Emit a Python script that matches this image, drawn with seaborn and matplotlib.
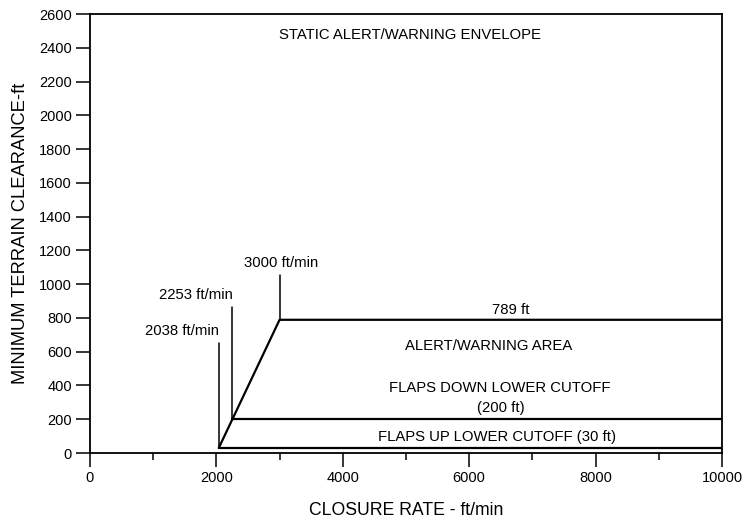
import pandas as pd
import seaborn as sns
import matplotlib.pyplot as plt

# envelope data (ft/min vs ft)
envelope_rate = [2038, 3000, 10000]
envelope_clearance = [30, 789, 789]
flaps_down_rate = [2253, 10000]
flaps_down_clearance = [200, 200]
flaps_up_rate = [2038, 10000]
flaps_up_clearance = [30, 30]

marker_rate = [2038, 2253, 3000]
marker_bottom = [30, 200, 789]
marker_top = [650, 865, 1054]
marker_labels = ["2038 ft/min", "2253 ft/min", "3000 ft/min"]

sns.set_style("ticks")
plt.rcParams['font.family'] = ['Liberation Sans', 'DejaVu Sans']
plt.rcParams['text.color'] = 'black'
plt.rcParams['axes.labelcolor'] = 'black'
plt.rcParams['xtick.color'] = 'black'
plt.rcParams['ytick.color'] = 'black'

fig = plt.figure(figsize=(7.46, 5.21), dpi=100)
ax = fig.add_axes([0.1206, 0.1305, 0.8472, 0.8426])

env = pd.DataFrame({'rate': envelope_rate, 'clearance': envelope_clearance})
sns.lineplot(data=env, x='rate', y='clearance', sort=False, color='black', lw=1.6, ax=ax)
sns.lineplot(x=flaps_down_rate, y=flaps_down_clearance, color='black', lw=1.6, ax=ax)
sns.lineplot(x=flaps_up_rate, y=flaps_up_clearance, color='black', lw=1.6, ax=ax)

fs = 10.7
# vertical marker lines with labels
for r, b, t, lab in zip(marker_rate, marker_bottom, marker_top, marker_labels):
    ax.plot([r, r], [b, t], color='black', lw=1.1)
    ax.text(r + 30 if r == 3000 else r + 10, t + 30, lab,
            ha='center' if r == 3000 else 'right', va='bottom', fontsize=fs)

ax.text(5060, 2475, "STATIC ALERT/WARNING ENVELOPE", ha='center', va='center', fontsize=fs)
ax.text(6650, 847, "789 ft", ha='center', va='center', fontsize=fs)
ax.text(6300, 634, "ALERT/WARNING AREA", ha='center', va='center', fontsize=fs)
ax.text(6490, 385, "FLAPS DOWN LOWER CUTOFF", ha='center', va='center', fontsize=fs)
ax.text(6500, 266, "(200 ft)", ha='center', va='center', fontsize=fs)
ax.text(6440, 95, "FLAPS UP LOWER CUTOFF (30 ft)", ha='center', va='center', fontsize=fs)

ax.set_xlim(0, 10000)
ax.set_ylim(0, 2600)
ax.set_xticks(range(0, 10001, 2000))
ax.set_xticks(range(1000, 10000, 2000), minor=True)
ax.set_yticks(range(0, 2601, 200))
ax.tick_params(axis='both', which='major', direction='out', length=10, width=1.1, labelsize=10.5)
ax.tick_params(axis='x', which='minor', direction='out', length=5, width=1.1)
ax.tick_params(axis='x', which='major', pad=3)
ax.tick_params(axis='y', which='major', pad=3)
for s in ax.spines.values():
    s.set_linewidth(1.3)
    s.set_color('black')

ax.set_xlabel("CLOSURE RATE - ft/min", fontsize=12.7, labelpad=12)
ax.set_ylabel("MINIMUM TERRAIN CLEARANCE-ft", fontsize=13.2, labelpad=7)

fig.savefig('out.png', dpi=100)
